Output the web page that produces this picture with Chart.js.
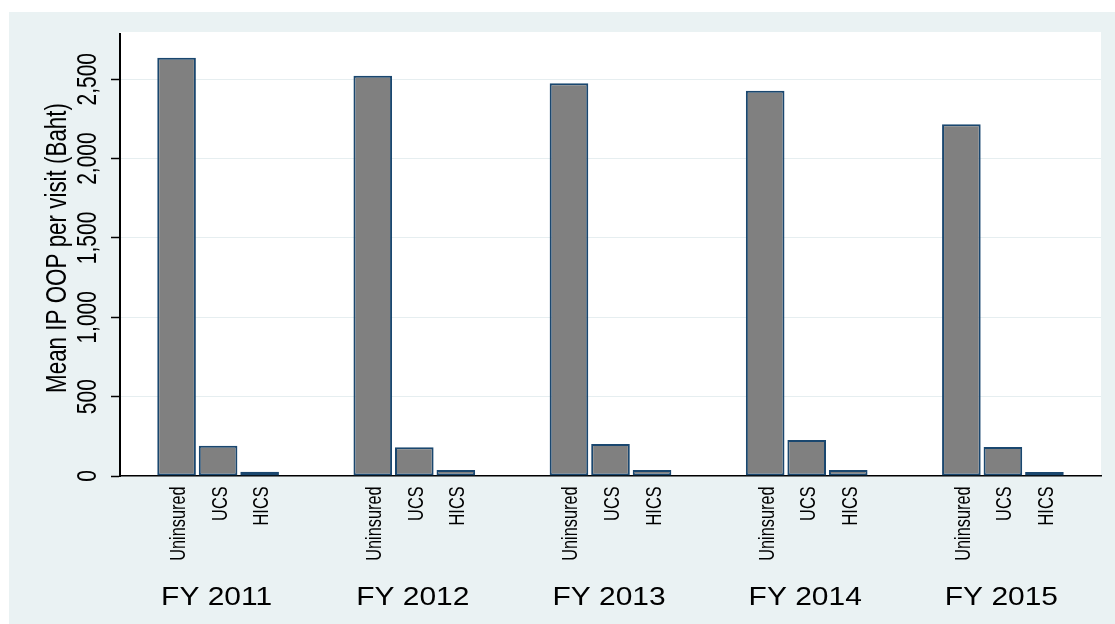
<!DOCTYPE html>
<html><head><meta charset="utf-8">
<script src="https://cdn.jsdelivr.net/npm/chart.js@4.4.1/dist/chart.umd.min.js"></script>
<style>html,body{margin:0;padding:0;background:#fff;}canvas{display:block;}</style>
</head><body>
<canvas id="c" width="1115" height="624"></canvas>
<script>
// ---- data ----
const fiscalYears = ['FY 2011', 'FY 2012', 'FY 2013', 'FY 2014', 'FY 2015'];
const schemes = ['Uninsured', 'UCS', 'HICS'];
const uninsured = [2636, 2522, 2474, 2428, 2216];
const ucs = [191, 181, 202, 227, 183];
const hics = [27, 38, 38, 38, 25];
const yTickValues = [0, 500, 1000, 1500, 2000, 2500];
const yTitle = 'Mean IP OOP per visit (Baht)';

const FONT = '"Liberation Sans", Arial, sans-serif';
const PANEL = '#eaf2f3';

function rotText(ctx, text, x, y, size, across, align, baseline) {
  ctx.save();
  ctx.translate(x, y);
  ctx.rotate(-Math.PI / 2);
  ctx.scale(1, across);
  ctx.font = size + 'px ' + FONT;
  ctx.textAlign = align;
  ctx.textBaseline = baseline;
  ctx.fillStyle = '#000';
  ctx.fillText(text, 0, 0);
  ctx.restore();
}

const stataPlugin = {
  id: 'stata',
  beforeDraw(chart) {
    const ctx = chart.ctx, a = chart.chartArea;
    ctx.save();
    ctx.fillStyle = '#fff';
    ctx.fillRect(0, 0, chart.width, chart.height);
    ctx.fillStyle = PANEL;
    ctx.fillRect(9, 12, chart.width - 9, chart.height - 12);
    ctx.fillStyle = '#fff';
    ctx.fillRect(a.left, a.top - 2, a.right - a.left, a.bottom - a.top + 2);
    ctx.restore();
  },
  afterDraw(chart) {
    const ctx = chart.ctx, a = chart.chartArea;
    const ys = chart.scales.y, xs = chart.scales.x;
    // y tick labels
    ys.ticks.forEach(t => {
      rotText(ctx, t.value.toLocaleString('en-US'), a.left - 24, ys.getPixelForValue(t.value), 21, 1.3, 'center', 'alphabetic');
    });
    // y title
    rotText(ctx, yTitle, a.left - 54, 248, 22.4, 1.3, 'center', 'alphabetic');
    // scheme labels under each bar
    chart.data.datasets.forEach((ds, di) => {
      const meta = chart.getDatasetMeta(di);
      meta.data.forEach(bar => {
        rotText(ctx, ds.label, bar.x + 8.5, a.bottom + 10.5, 16.3, 1.4, 'right', 'alphabetic');
      });
    });
    // fiscal year labels
    fiscalYears.forEach((lbl, i) => {
      ctx.save();
      ctx.translate(xs.getPixelForValue(i) - 1.5, a.bottom + 129);
      ctx.scale(1.13, 1);
      ctx.font = '26.5px ' + FONT;
      ctx.textAlign = 'center';
      ctx.textBaseline = 'alphabetic';
      ctx.fillStyle = '#000';
      ctx.fillText(lbl, 0, 0);
      ctx.restore();
    });
  }
};

const barStyle = { backgroundColor: '#808080', borderColor: '#1a476f', borderWidth: 2, borderSkipped: false };

new Chart(document.getElementById('c'), {
  type: 'bar',
  data: {
    labels: fiscalYears,
    datasets: [
      Object.assign({ label: schemes[0], data: uninsured }, barStyle),
      Object.assign({ label: schemes[1], data: ucs }, barStyle),
      Object.assign({ label: schemes[2], data: hics }, barStyle)
    ]
  },
  options: {
    responsive: false,
    devicePixelRatio: 1,
    animation: false,
    categoryPercentage: 0.635,
    barPercentage: 0.93,
    layout: { padding: { left: 111, top: 34, right: 14, bottom: 148 } },
    plugins: { legend: { display: false }, tooltip: { enabled: false } },
    scales: {
      x: {
        type: 'category',
        grid: { display: false, drawTicks: false },
        border: { display: true, color: '#000', width: 1.5 },
        ticks: { display: false }
      },
      y: {
        min: 0, max: 2785,
        bounds: 'data',
        grid: { color: '#e6eef0', lineWidth: 1, drawTicks: true, tickLength: 9, tickColor: '#000', tickWidth: 1.5 },
        border: { display: true, color: '#000', width: 2 },
        ticks: { display: false },
        afterBuildTicks: s => { s.ticks = yTickValues.map(v => ({ value: v })); }
      }
    }
  },
  plugins: [stataPlugin]
});
</script>
</body></html>
